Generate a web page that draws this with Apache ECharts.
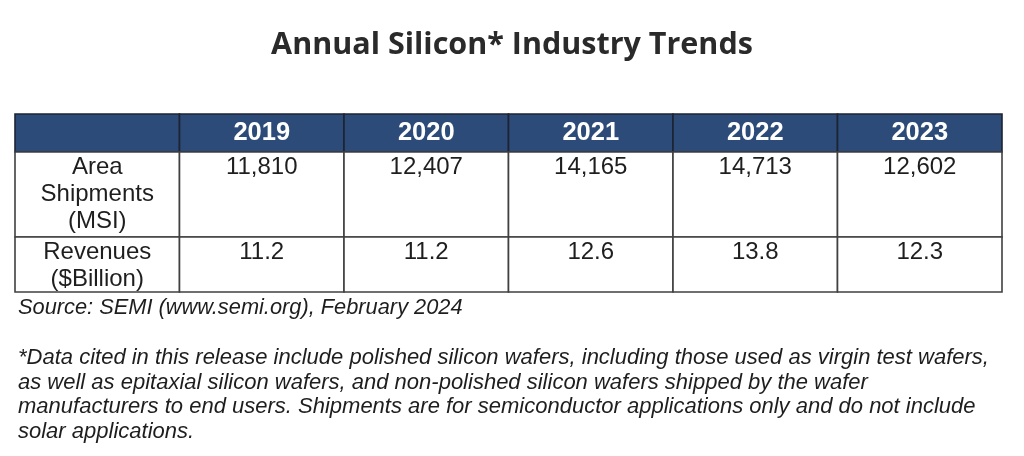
<!DOCTYPE html>
<html>
<head>
<meta charset="utf-8">
<script src="https://cdn.jsdelivr.net/npm/echarts@6/dist/echarts.min.js"></script>
<style>html,body{margin:0;padding:0;background:#fff;}#c{width:1024px;height:456px;}</style>
</head>
<body>
<div id="c"></div>
<script>
// ---- data ----
const titleText = 'Annual Silicon* Industry Trends';
const years = ['2019', '2020', '2021', '2022', '2023'];
const rowLabels = ['Area\nShipments\n(MSI)', 'Revenues\n($Billion)'];
const areaShipments = [11810, 12407, 14165, 14713, 12602];
const revenues = [11.2, 11.2, 12.6, 13.8, 12.3];
const sourceText = 'Source: SEMI (www.semi.org), February 2024';
const footnoteText = '*Data cited in this release include polished silicon wafers, including those used as virgin test wafers,\nas well as epitaxial silicon wafers, and non-polished silicon wafers shipped by the wafer\nmanufacturers to end users. Shipments are for semiconductor applications only and do not include\nsolar applications.';

// ---- layout (row boundaries in table units) ----
const rowEdges = [0, 38, 123, 178];
const nCols = years.length + 1;

const fmtInt = v => v.toLocaleString('en-US');
const fmtDec = v => v.toFixed(1);

// Build cell list: [col, row]
const cells = [];
const cellText = [];
const cellKind = [];
for (let c = 0; c < nCols; c++) {
  cells.push([c, 0]); cellText.push(c === 0 ? '' : years[c - 1]); cellKind.push('head');
}
for (let c = 0; c < nCols; c++) {
  cells.push([c, 1]); cellText.push(c === 0 ? rowLabels[0] : fmtInt(areaShipments[c - 1])); cellKind.push('body');
}
for (let c = 0; c < nCols; c++) {
  cells.push([c, 2]); cellText.push(c === 0 ? rowLabels[1] : fmtDec(revenues[c - 1])); cellKind.push('body');
}

const chart = echarts.init(document.getElementById('c'), null, {renderer: 'canvas'});

function renderItem(params, api) {
  const col = api.value(0), row = api.value(1);
  const p0 = api.coord([col, rowEdges[row]]);
  const p1 = api.coord([col + 1, rowEdges[row + 1]]);
  const x = Math.min(p0[0], p1[0]), y = Math.min(p0[1], p1[1]);
  const w = Math.abs(p1[0] - p0[0]), h = Math.abs(p1[1] - p0[1]);
  const i = params.dataIndex;
  const head = cellKind[i] === 'head';
  const children = [{
    type: 'rect',
    shape: {x: x, y: y, width: w, height: h},
    style: {fill: head ? '#2C4B78' : '#ffffff', stroke: head ? '#1c2433' : '#404040', lineWidth: 1.6}
  }];
  if (cellText[i]) {
    children.push({
      type: 'text',
      z2: 10,
      style: head ? {
        text: cellText[i], x: x + w / 2, y: y + h / 2,
        align: 'center', verticalAlign: 'middle',
        fontFamily: 'Liberation Sans, Arial, sans-serif', fontWeight: 'bold', fontSize: 25.5,
        fill: '#ffffff'
      } : {
        text: cellText[i], x: x + w / 2, y: y + 2,
        align: 'center', verticalAlign: 'top',
        fontFamily: 'Liberation Sans, Arial, sans-serif', fontSize: 24, lineHeight: 27,
        fill: '#1e1e1e'
      }
    });
  }
  return {type: 'group', children: children};
}

chart.setOption({
  backgroundColor: '#ffffff',
  animation: false,
  title: {
    text: titleText,
    left: 'center',
    top: 25,
    textStyle: {fontFamily: 'Open Sans, sans-serif', fontWeight: 'bold', fontSize: 30.5, color: '#2a2a2a'}
  },
  grid: {left: 15, top: 114, width: 987, height: 178},
  xAxis: {type: 'value', min: 0, max: nCols, show: false},
  yAxis: {type: 'value', min: 0, max: rowEdges[rowEdges.length - 1], inverse: true, show: false},
  series: [{
    type: 'custom',
    renderItem: renderItem,
    data: cells,
    clip: false,
    silent: true
  }],
  graphic: [{
    type: 'text', left: 18, top: 297,
    style: {text: sourceText, fontFamily: 'Liberation Sans, Arial, sans-serif', fontStyle: 'italic', fontSize: 21.8, fill: '#1e1e1e'}
  }, {
    type: 'text', left: 18, top: 346,
    style: {text: footnoteText, fontFamily: 'Liberation Sans, Arial, sans-serif', fontStyle: 'italic', fontSize: 22, lineHeight: 24.4, fill: '#1e1e1e'}
  }]
});
</script>
</body>
</html>
